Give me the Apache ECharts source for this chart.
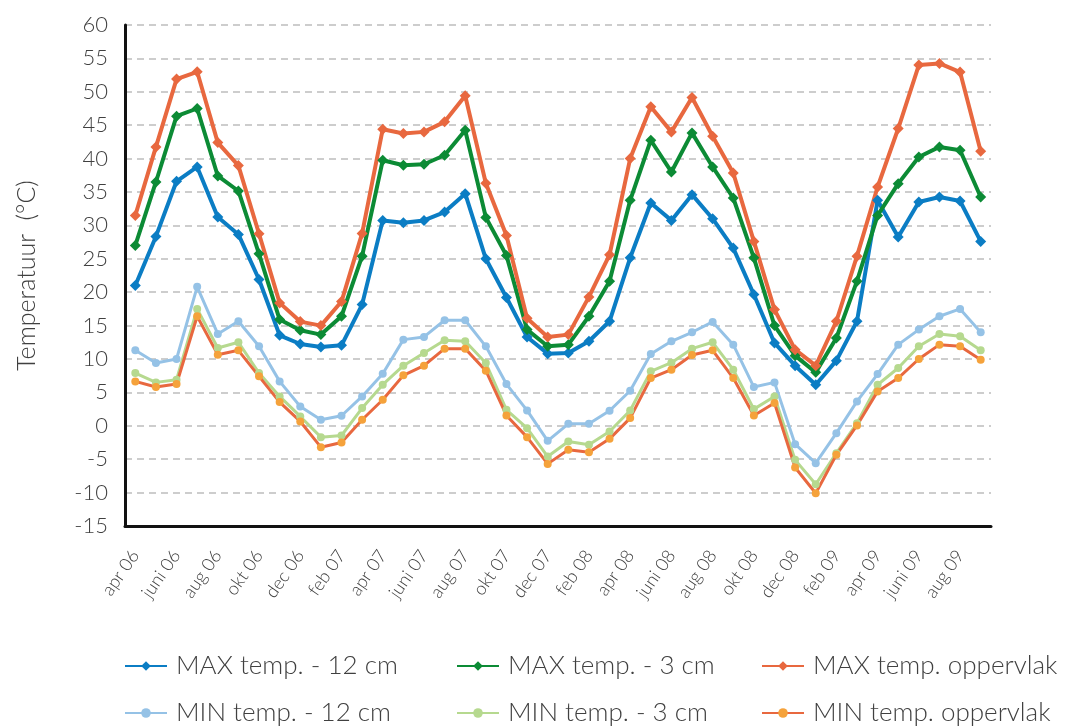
<!DOCTYPE html>
<html>
<head>
<meta charset="utf-8">
<script src="https://cdn.jsdelivr.net/npm/echarts@6/dist/echarts.min.js"></script>
<style>
html,body{margin:0;padding:0;background:#fff;}
#chart{width:1072px;height:726px;}
</style>
</head>
<body>
<div id="chart"></div>
<script>
const categories = ['apr 06','mei 06','juni 06','juli 06','aug 06','sep 06','okt 06','nov 06','dec 06','jan 07','feb 07','mrt 07',
  'apr 07','mei 07','juni 07','juli 07','aug 07','sep 07','okt 07','nov 07','dec 07','jan 08','feb 08','mrt 08',
  'apr 08','mei 08','juni 08','juli 08','aug 08','sep 08','okt 08','nov 08','dec 08','jan 09','feb 09','mrt 09',
  'apr 09','mei 09','juni 09','juli 09','aug 09','sep 09'];

const seriesNames = ['MAX temp. - 12 cm','MAX temp. - 3 cm','MAX temp. oppervlak','MIN temp. - 12 cm','MIN temp. - 3 cm','MIN temp. oppervlak'];

const max12 = [21.0, 28.35, 36.6, 38.75, 31.25, 28.65, 21.9, 13.55, 12.25, 11.8, 12.05, 18.15, 30.75, 30.4, 30.75, 32.0, 34.75, 25.0, 19.2, 13.3, 10.8, 10.9, 12.65, 15.65, 25.15, 33.35, 30.75, 34.6, 31.0, 26.6, 19.65, 12.4, 9.0, 6.15, 9.75, 15.65, 33.75, 28.25, 33.5, 34.25, 33.65, 27.6];
const max3 = [27.0, 36.5, 46.35, 47.5, 37.4, 35.15, 25.75, 15.9, 14.3, 13.65, 16.4, 25.4, 39.75, 39.0, 39.15, 40.5, 44.25, 31.2, 25.5, 14.4, 11.9, 12.15, 16.4, 21.65, 33.75, 42.75, 38.0, 43.85, 38.75, 34.1, 25.15, 15.0, 10.5, 8.0, 13.15, 21.65, 31.5, 36.25, 40.25, 41.75, 41.25, 34.25];
const maxSurface = [31.5, 41.75, 51.9, 53.0, 42.4, 38.95, 28.75, 18.4, 15.6, 15.0, 18.6, 28.8, 44.4, 43.75, 44.0, 45.5, 49.4, 36.3, 28.5, 16.1, 13.3, 13.65, 19.3, 25.6, 40.0, 47.75, 44.0, 49.15, 43.35, 37.85, 27.6, 17.4, 11.4, 9.0, 15.65, 25.4, 35.75, 44.5, 54.0, 54.25, 52.95, 41.1];
const min12 = [11.3, 9.4, 10.0, 20.8, 13.75, 15.65, 11.9, 6.65, 2.9, 0.9, 1.5, 4.4, 7.8, 12.9, 13.3, 15.8, 15.8, 11.9, 6.25, 2.3, -2.25, 0.3, 0.3, 2.25, 5.25, 10.75, 12.65, 14.0, 15.55, 12.15, 5.8, 6.5, -2.75, -5.6, -1.1, 3.65, 7.75, 12.15, 14.4, 16.4, 17.5, 14.0];
const min3 = [7.9, 6.5, 6.9, 17.5, 11.65, 12.5, 7.9, 4.4, 1.4, -1.7, -1.45, 2.65, 6.15, 9.0, 10.9, 12.8, 12.65, 9.4, 2.4, -0.35, -4.6, -2.35, -2.85, -0.85, 2.3, 8.15, 9.45, 11.55, 12.5, 8.4, 2.5, 4.4, -5.1, -8.75, -4.1, 0.4, 6.15, 8.65, 11.9, 13.75, 13.4, 11.3];
const minSurface = [6.65, 5.8, 6.25, 16.4, 10.65, 11.3, 7.4, 3.55, 0.65, -3.2, -2.5, 0.9, 3.9, 7.55, 9.0, 11.55, 11.55, 8.25, 1.55, -1.7, -5.7, -3.6, -3.95, -1.95, 1.15, 7.15, 8.4, 10.6, 11.3, 7.15, 1.55, 3.4, -6.25, -10.1, -4.35, 0.05, 5.15, 7.15, 10.0, 12.15, 11.9, 9.9];

const FONT = 'Lato';
const TXT = '#404040';

const styles = [
  {line:'#0B7DC4', marker:'#0B7DC4', w:4, sym:'diamond', size:11},
  {line:'#0C8B35', marker:'#0C8B35', w:4, sym:'diamond', size:11},
  {line:'#E8683F', marker:'#E8683F', w:4, sym:'diamond', size:11},
  {line:'#95C2E6', marker:'#95C2E6', w:3, sym:'circle', size:8},
  {line:'#B6D98F', marker:'#B6D98F', w:3, sym:'circle', size:8},
  {line:'#E8683F', marker:'#F5A23B', w:3, sym:'circle', size:8}
];
const datasets = [max12, max3, maxSurface, min12, min3, minSurface];

const series = seriesNames.map((n,i)=>({
  name:n, type:'line', data:datasets[i],
  symbol:styles[i].sym, symbolSize:styles[i].size, showSymbol:true,
  lineStyle:{color:styles[i].line, width:styles[i].w},
  itemStyle:{color:styles[i].marker},
  z: i < 3 ? 3 : 2,
  animation:false
}));

const legendPos = [[119,648],[451,648],[756,648],[119,695],[451,695],[756,695]];
const legends = seriesNames.map((n,i)=>({
  data:[n], left:legendPos[i][0], top:legendPos[i][1], orient:'horizontal',
  itemWidth:42, itemHeight:12, itemGap:0,
  textStyle:{fontFamily:FONT, fontWeight:300, fontSize:26, color:TXT, padding:[0,0,0,4]},
  selectedMode:false
}));

const chart = echarts.init(document.getElementById('chart'), null, {renderer:'canvas'});
chart.setOption({
  animation:false,
  backgroundColor:'#fff',
  grid:{left:125, right:81, top:25, bottom:200, containLabel:false},
  legend:legends,
  xAxis:{
    type:'category', data:categories, boundaryGap:true,
    axisLine:{onZero:false, lineStyle:{color:'#111', width:3}},
    axisTick:{show:false},
    splitLine:{show:false},
    axisLabel:{interval:1, rotate:55, margin:26, fontFamily:FONT, fontWeight:300, fontSize:18, color:TXT}
  },
  yAxis:{
    type:'value', min:-15, max:60, interval:5,
    name:'Temperatuur  (°C)', nameLocation:'middle', nameGap:86, nameRotate:90,
    nameTextStyle:{fontFamily:FONT, fontWeight:300, fontSize:25, color:TXT},
    axisLine:{show:true, lineStyle:{color:'#111', width:3}},
    axisTick:{show:false},
    axisLabel:{fontFamily:FONT, fontWeight:300, fontSize:22, color:TXT, margin:17},
    splitLine:{show:true, lineStyle:{color:'#BDBDBD', width:1.5, type:[7,5]}}
  },
  series:series
});
</script>
</body>
</html>
